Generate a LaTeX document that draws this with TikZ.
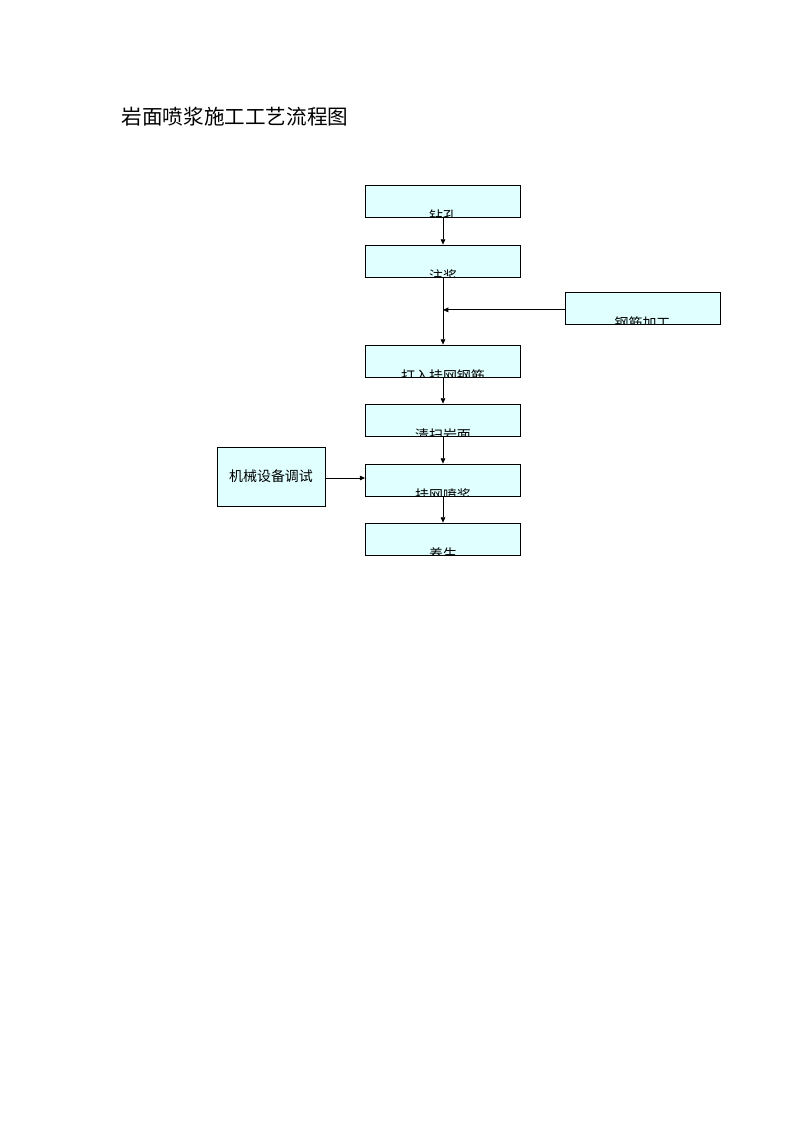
\documentclass[tikz,border=0pt]{standalone}
\usepackage{fontspec}
\setmainfont{Liberation Sans}
\newfontfamily\cjk{Noto Sans CJK SC}
\usetikzlibrary{arrows.meta, positioning}
\definecolor{flFill}{HTML}{E0FFFF}
\tikzset{
  fl-box/.style={
    rectangle, draw=black, fill=flFill, line width=0.6pt,
    minimum width=41mm, minimum height=8.46mm, inner sep=0pt
  },
  fl-cut/.style={
    fl-box,
    path picture={\node[font=\cjk\fontsize{10.5}{12}\selectfont]
      at ([yshift=0.5pt]path picture bounding box.south) {#1};}
  },
  fl-side/.style={
    fl-box, minimum width=28.6mm, minimum height=15.6mm,
    align=center, font=\cjk\fontsize{10.5}{12}\selectfont
  },
  fl-flow/.style={-{Triangle[length=4pt,width=3.5pt]}, line width=0.6pt},
}
\begin{document}
\begin{tikzpicture}[x=0.2645mm, y=-0.2645mm]
  \useasboundingbox (0,0) rectangle (794,1123);
  \node[anchor=west, font=\cjk\fontsize{15.5}{18}\selectfont]
                                                (title) at (117,117) {岩面喷浆施工工艺流程图};

  \node[fl-cut=钻孔]         (zk) at (443,201) {};
  \node[fl-cut=注浆]         (zj) at (443,261) {};
  \node[fl-cut=钢筋加工]     (gj) at (642.5,308) {};
  \node[fl-cut=打入挂网钢筋] (dr) at (443,361) {};
  \node[fl-cut=清扫岩面]     (qs) at (443,420) {};
  \node[fl-cut=挂网喷浆]     (gw) at (443,480) {};
  \node[fl-cut=养生]         (ys) at (443,539) {};
  \node[fl-side]             (jx) at (271,476.5) {机械设备调试};

  \draw[fl-flow] (zk) -- (zj);
  \draw[fl-flow] (zj) -- (dr);
  \draw[fl-flow] ([yshift=-0.5mm]gj.west) -- ([yshift=-0.5mm]gj.west -| zj.south);
  \draw[fl-flow] (dr) -- (qs);
  \draw[fl-flow] (qs) -- (gw);
  \draw[fl-flow] ([yshift=-0.4mm]jx.east) -- ([yshift=-0.4mm]jx.east -| gw.west);
  \draw[fl-flow] (gw) -- (ys);
\end{tikzpicture}
\end{document}
